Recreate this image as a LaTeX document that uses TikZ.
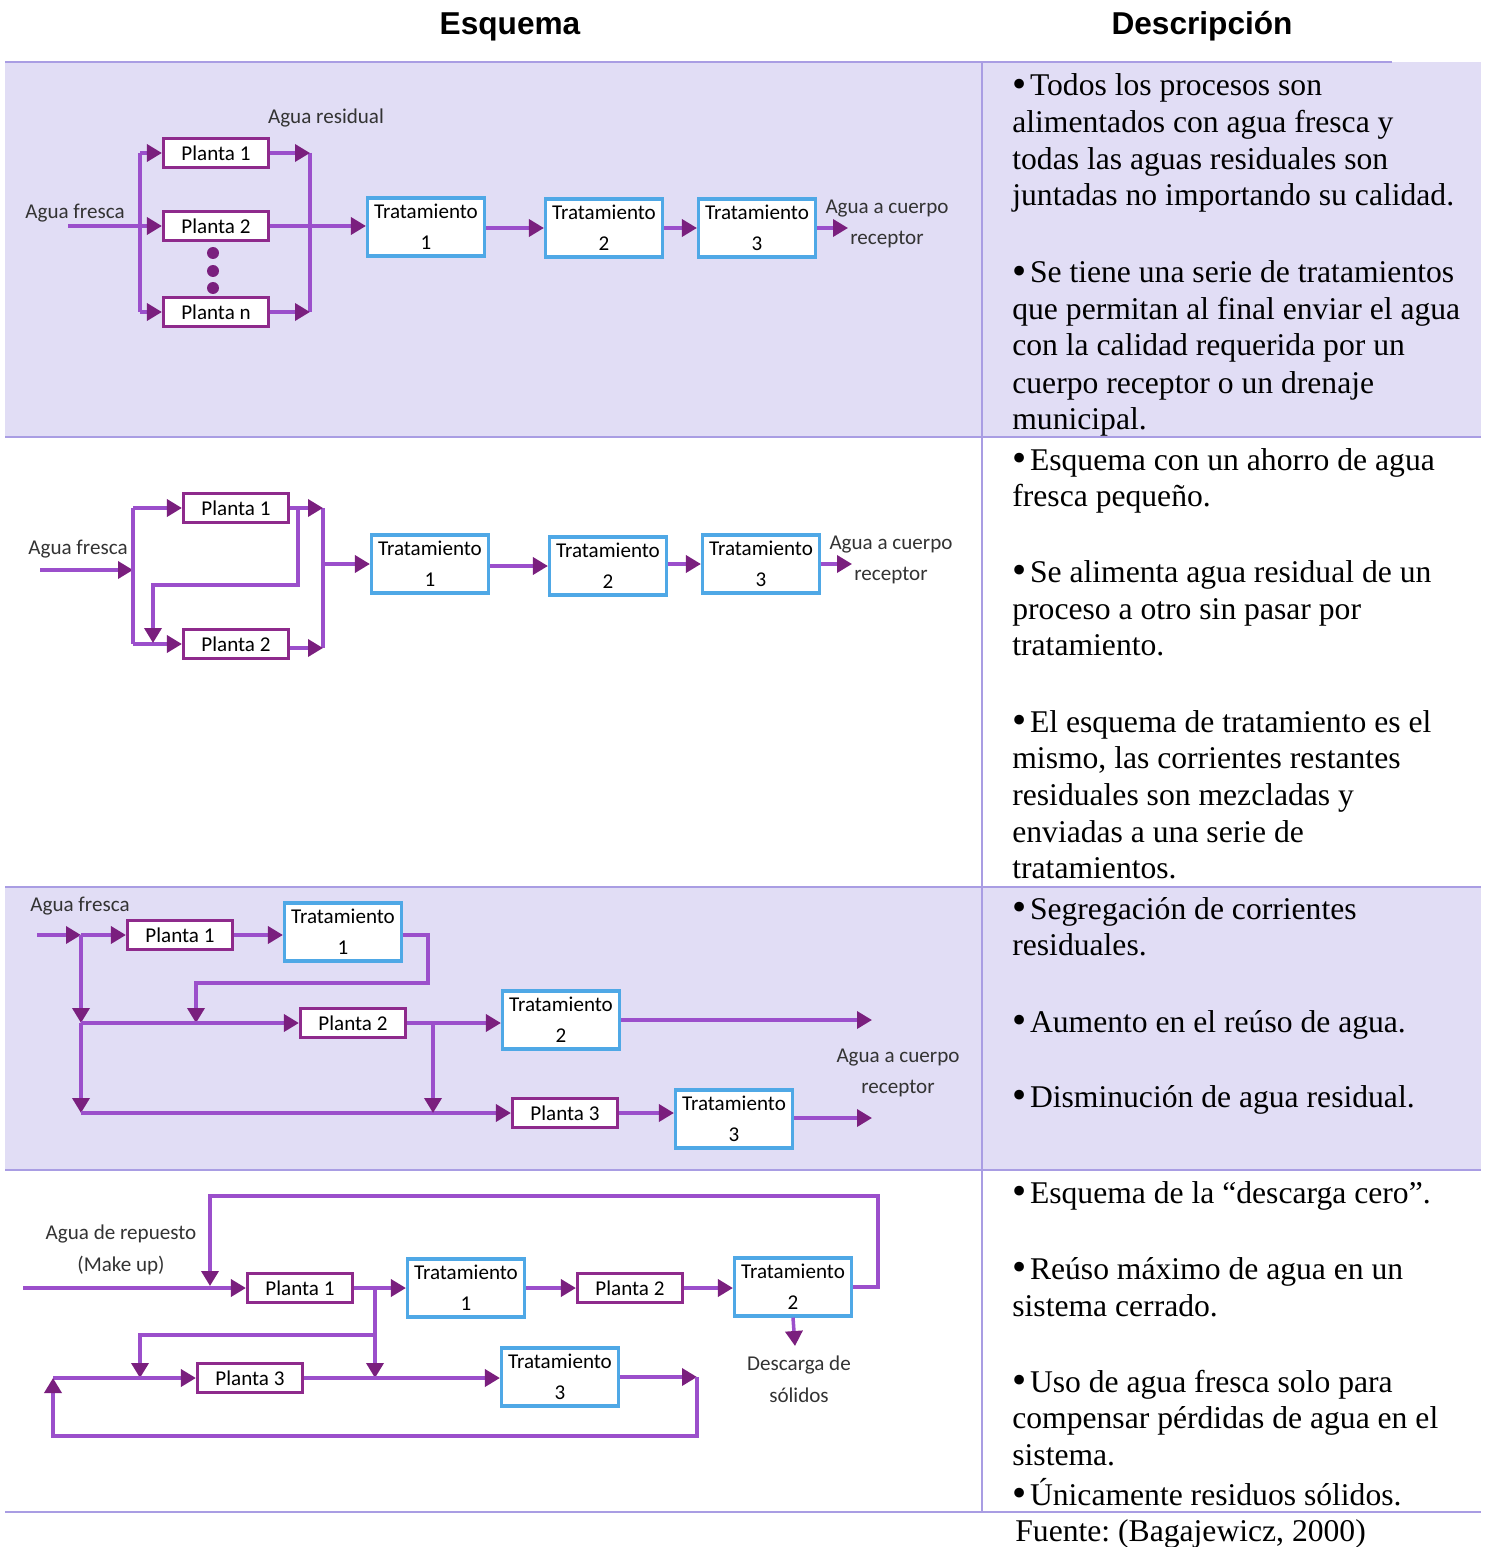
\documentclass[tikz,border=0pt]{standalone}
\usepackage{fontspec}
\setmainfont{Liberation Serif}
\newfontfamily\diagfont{Carlito}
\newfontfamily\headfont{Liberation Sans}
\usepackage{tikz}
\usetikzlibrary{arrows.meta, positioning}
\frenchspacing
\definecolor{linec}{HTML}{9B4FCB}
\definecolor{tipc}{HTML}{7A1F7E}
\definecolor{plantc}{HTML}{8E2A8C}
\definecolor{tratc}{HTML}{4FA8E6}
\definecolor{bandc}{HTML}{E1DDF5}
\definecolor{rulec}{HTML}{A99DE3}
\newcommand\blt{\raisebox{-1pt}{\fontsize{23}{21}\selectfont•}\kern2pt}
\tikzset{
  >={Triangle[length=0.3cm,width=0.34cm,color=tipc]},
  flow/.style={draw=linec, line width=2pt},
  planta/.style={draw=plantc, line width=1.8pt, fill=white, minimum width=2.1cm, minimum height=0.58cm, inner sep=0pt, font=\diagfont\fontsize{12}{14}\selectfont},
  trat/.style={draw=tratc, line width=1.8pt, fill=white, minimum width=2.34cm, minimum height=1.16cm, inner sep=0pt, align=center, font=\diagfont\fontsize{12}{17.6}\selectfont},
  lbl/.style={align=center, inner sep=0pt, font=\diagfont\fontsize{12}{18}\selectfont, text=black!80},
  desc/.style={anchor=base west, inner sep=0pt, font=\fontsize{18}{21}\selectfont},
  head/.style={anchor=base, inner sep=0pt, font=\headfont\bfseries\fontsize{18}{20}\selectfont},
  rule/.style={draw=rulec, line width=0.9pt},
}
\begin{document}
\begin{tikzpicture}[x=0.02cm,y=-0.02cm]
  \useasboundingbox (0,0) rectangle (1489,1547);
  % table
  \fill[bandc] (5,62) rectangle (1481,437);
  \fill[bandc] (5,887) rectangle (1481,1170);
  \draw[rule,line width=1.7pt] (5,62) -- (1392,62);
  \draw[rule] (5,437) -- (1481,437);
  \draw[rule] (5,887) -- (1481,887);
  \draw[rule] (5,1170) -- (1481,1170);
  \draw[rule] (5,1512) -- (1481,1512);
  \draw[rule] (982,62) -- (982,1512);
  \node[head] (hesq) at (510,35) {Esquema};
  \node[head] (hdesc) at (1202,35) {Descripción};

  % fila 1
  \node[lbl] (r1fr) at (75,213) {Agua fresca};
  \node[lbl] (r1res) at (326,118) {Agua residual};
  \node[planta] (r1p1) at (216,153) {Planta 1};
  \node[planta] (r1p2) at (216,226) {Planta 2};
  \node[planta] (r1pn) at (216,312) {Planta n};
  \foreach \y in {253,271,288} \fill[tipc] (213,\y) circle (0.12cm);
  \node[trat] (r1t1) at (426,227) {Tratamiento\\1};
  \node[trat] (r1t2) at (604,228) {Tratamiento\\2};
  \node[trat] (r1t3) at (757,228) {Tratamiento\\3};
  \node[lbl] (r1rec) at (887,224) {Agua a cuerpo\\receptor};
  \coordinate (r1in) at (68,226);
  \coordinate (r1a) at (140,153);
  \coordinate (r1b) at (140,312);
  \coordinate (r1c) at (310,153);
  \coordinate (r1d) at (310,312);
  \coordinate (r1out) at (848,228);
  \draw[flow] (r1a) -- (r1b);
  \draw[flow] (r1c) -- (r1d);
  \draw[flow,->] (r1in) -- (r1p2.west);
  \draw[flow,->] (r1a) -- (r1p1.west);
  \draw[flow,->] (r1b) -- (r1pn.west);
  \draw[flow,->] (r1p1.east) -- (r1c);
  \draw[flow,->] (r1pn.east) -- (r1d);
  \draw[flow,->] (r1p2.east) -- (r1t1.west |- r1p2);
  \draw[flow,->] (r1t1.east |- r1t2) -- (r1t2.west);
  \draw[flow,->] (r1t2) -- (r1t3.west |- r1t2);
  \draw[flow,->] (r1t3.east) -- (r1out);

  % fila 2
  \node[lbl] (r2fr) at (78,549) {Agua fresca};
  \node[planta] (r2p1) at (236,508) {Planta 1};
  \node[planta] (r2p2) at (236,644) {Planta 2};
  \node[trat] (r2t1) at (430,564) {Tratamiento\\1};
  \node[trat] (r2t2) at (608,566) {Tratamiento\\2};
  \node[trat] (r2t3) at (761,564) {Tratamiento\\3};
  \node[lbl] (r2rec) at (891,560) {Agua a cuerpo\\receptor};
  \coordinate (r2in) at (40,570);
  \coordinate (r2j) at (133,570);
  \coordinate (r2a) at (133,508);
  \coordinate (r2b) at (133,644);
  \coordinate (r2c) at (323,508);
  \coordinate (r2d) at (323,648);
  \coordinate (r2e) at (298,508);
  \coordinate (r2g) at (298,585);
  \coordinate (r2f) at (153,643);
  \coordinate (r2h) at (323,564);
  \coordinate (r2out) at (852,564);
  \draw[flow,->] (r2in) -- (r2j);
  \draw[flow] (r2a) -- (r2b);
  \draw[flow] (r2c) -- (r2d);
  \draw[flow,->] (r2a) -- (r2p1.west);
  \draw[flow,->] (r2b) -- (r2p2.west);
  \draw[flow,->] (r2p1.east) -- (r2c);
  \draw[flow,->] (r2p2.east |- r2d) -- (r2d);
  \draw[flow,->] (r2e) -- (r2g) -| (r2f);
  \draw[flow,->] (r2h) -- (r2t1.west);
  \draw[flow,->] (r2t1.east |- r2t2) -- (r2t2.west);
  \draw[flow,->] (r2t2.east |- r2t3) -- (r2t3.west);
  \draw[flow,->] (r2t3.east) -- (r2out);

  % fila 3
  \node[lbl] (r3fr) at (80,906) {Agua fresca};
  \node[planta] (r3p1) at (180,935) {Planta 1};
  \node[planta] (r3p2) at (353,1023) {Planta 2};
  \node[planta] (r3p3) at (565,1113) {Planta 3};
  \node[trat] (r3t1) at (343,932) {Tratamiento\\1};
  \node[trat] (r3t2) at (561,1020) {Tratamiento\\2};
  \node[trat] (r3t3) at (734,1119) {Tratamiento\\3};
  \node[lbl] (r3rec) at (898,1073) {Agua a cuerpo\\receptor};
  \coordinate (r3in) at (37,935);
  \coordinate (r3j) at (81,935);
  \coordinate (r3k) at (428,983);
  \coordinate (r3m) at (196,1023);
  \coordinate (r3q) at (81,1023);
  \coordinate (r3r) at (81,1113);
  \coordinate (r3s) at (433,1023);
  \coordinate (r3u) at (433,1113);
  \coordinate (r3o2) at (872,1020);
  \coordinate (r3o3) at (872,1118);
  \draw[flow,->] (r3in) -- (r3j);
  \draw[flow,->] (r3j) -- (r3p1.west);
  \draw[flow,->] (r3p1.east) -- (r3p1 -| r3t1.west);
  \draw[flow,->] (r3t1.east |- r3p1) -| (r3k) -| (r3m);
  \draw[flow,->] (r3j) -- (r3q);
  \draw[flow,->] (r3q) -- (r3r);
  \draw[flow,->] (r3q) -- (r3p2.west);
  \draw[flow,->] (r3r) -- (r3p3.west);
  \draw[flow,->] (r3p2.east) -- (r3p2 -| r3t2.west);
  \draw[flow,->] (r3s) -- (r3u);
  \draw[flow,->] (r3p3.east) -- (r3p3 -| r3t3.west);
  \draw[flow,->] (r3t2.east) -- (r3o2);
  \draw[flow,->] (r3t3.east |- r3o3) -- (r3o3);

  % fila 4
  \node[lbl] (r4rep) at (121,1250) {Agua de repuesto\\(Make up)};
  \node[planta] (r4p1) at (300,1288) {Planta 1};
  \node[planta] (r4p2) at (630,1288) {Planta 2};
  \node[planta] (r4p3) at (250,1378) {Planta 3};
  \node[trat] (r4t1) at (466,1288) {Tratamiento\\1};
  \node[trat] (r4t2) at (793,1287) {Tratamiento\\2};
  \node[trat] (r4t3) at (560,1377) {Tratamiento\\3};
  \node[lbl] (r4sol) at (799,1379) {Descarga de\\sólidos};
  \coordinate (r4in) at (23,1288);
  \coordinate (r4a) at (878,1196);
  \coordinate (r4b) at (210,1286);
  \coordinate (r4c) at (375,1288);
  \coordinate (r4d) at (375,1378);
  \coordinate (r4e) at (375,1335);
  \coordinate (r4f) at (140,1378);
  \coordinate (r4g) at (697,1377);
  \coordinate (r4h) at (53,1436);
  \coordinate (r4i) at (53,1378);
  \coordinate (r4s) at (795,1346);
  \draw[flow,->] (r4in) -- (r4p1.west);
  \draw[flow,->] (r4t2.east) -| (r4a) -| (r4b);
  \draw[flow,->] (r4p1.east) -- (r4t1.west);
  \draw[flow,->] (r4c) -- (r4d);
  \draw[flow,->] (r4e) -| (r4f);
  \draw[flow,->] (r4i) -- (r4p3.west);
  \draw[flow,->] (r4p3.east) -- (r4p3 -| r4t3.west);
  \draw[flow,->] (r4t3.east) -- (r4g);
  \draw[flow,->] (r4g) |- (r4h) -- (r4i);
  \draw[flow,->] (r4t1.east) -- (r4p2.west);
  \draw[flow,->] (r4p2.east) -- (r4p2 -| r4t2.west);
  \draw[flow,->] (r4t2.south) -- (r4s);

  % descripcion
  \foreach \y/\t in {96/{\blt Todos los procesos son},
      133/{alimentados con agua fresca y},
      170/{todas las aguas residuales son},
      206/{juntadas no importando su calidad.},
      283/{\blt Se tiene una serie de tratamientos},
      319/{que permitan al final enviar el agua},
      356/{con la calidad requerida por un},
      393/{cuerpo receptor o un drenaje},
      429/{municipal.},
      470/{\blt Esquema con un ahorro de agua},
      506/{fresca pequeño.},
      582/{\blt Se alimenta agua residual de un},
      619/{proceso a otro sin pasar por},
      655/{tratamiento.},
      732/{\blt El esquema de tratamiento es el},
      768/{mismo, las corrientes restantes},
      805/{residuales son mezcladas y},
      842/{enviadas a una serie de},
      878/{tratamientos.},
      919/{\blt Segregación de corrientes},
      955/{residuales.},
      1032/{\blt Aumento en el reúso de agua.},
      1107/{\blt Disminución de agua residual.},
      1203/{\blt Esquema de la “descarga cero”.},
      1279/{\blt Reúso máximo de agua en un},
      1316/{sistema cerrado.},
      1392/{\blt Uso de agua fresca solo para},
      1428/{compensar pérdidas de agua en el},
      1465/{sistema.},
      1505/{\blt Únicamente residuos sólidos.}}
    \node[desc] (d\y) at (1012,\y) {\t};
  \node[desc] (fuente) at (1015,1541) {Fuente: (Bagajewicz, 2000)};
\end{tikzpicture}
\end{document}
